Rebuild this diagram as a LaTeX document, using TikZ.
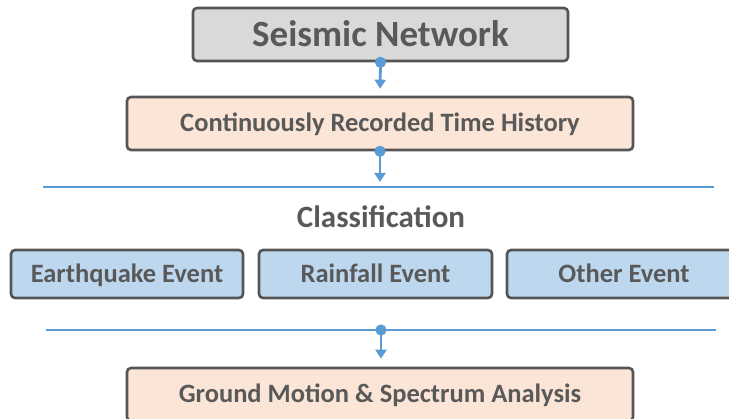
\documentclass[tikz,border=0pt]{standalone}
\usepackage{fontspec}
\setmainfont{Carlito}
\usetikzlibrary{arrows.meta}
\definecolor{txt}{HTML}{595959}
\definecolor{bord}{HTML}{555555}
\definecolor{grayfill}{HTML}{D9D9D9}
\definecolor{peach}{HTML}{FBE5D6}
\definecolor{lblue}{HTML}{BDD7EE}
\definecolor{lineblue}{HTML}{5B9BD5}
\tikzset{
  box/.style={draw=bord, line width=2.6pt, rounded corners=4pt, inner sep=0pt, text=txt, text height=17pt, text depth=0pt, font=\bfseries\fontsize{26.5}{30}\selectfont},
  conn/.style={draw=lineblue, line width=2.8pt, {Circle[length=11pt,width=11pt]}-{Triangle[length=9pt,width=11pt]}, shorten <=-5.5pt},
  hline/.style={draw=lineblue, line width=2.8pt},
}
\begin{document}
\begin{tikzpicture}[x=1pt,y=-1pt]
\useasboundingbox (0,0) rectangle (729,419);
\clip (0,0) rectangle (729,419);
\node[box, fill=grayfill, minimum width=375pt, minimum height=53pt, text height=24pt, font=\bfseries\fontsize{37}{42}\selectfont] (sn) at (380.5,34.5) {Seismic Network};
\node[box, fill=peach, minimum width=506pt, minimum height=53pt] (ct) at (380,123.5) {Continuously Recorded Time History};
\coordinate (l1a) at (43,187);
\coordinate (l1b) at (714,187);
\coordinate (l1c) at (380,187);
\draw[hline] (l1a) -- (l1b);
\node[text=txt, font=\bfseries\fontsize{31}{36}\selectfont, inner sep=0pt, text height=20pt, text depth=0pt] (cl) at (381,218) {Classification};
\node[box, fill=lblue, minimum width=232pt, minimum height=48pt] (eq) at (127,274) {Earthquake Event};
\node[box, fill=lblue, minimum width=233pt, minimum height=48pt] (rf) at (375.5,274) {Rainfall Event};
\node[box, fill=lblue, minimum width=234pt, minimum height=48pt] (ot) at (624,274) {Other Event};
\coordinate (l2a) at (46,330);
\coordinate (l2b) at (716,330);
\coordinate (l2c) at (381,330);
\draw[hline] (l2a) -- (l2b);
\node[box, fill=peach, minimum width=506pt, minimum height=53pt] (gm) at (380,394.5) {Ground Motion \& Spectrum Analysis};
\draw[conn, shorten >=7pt] (sn.south) -- (ct.north);
\draw[conn, shorten >=5pt] (ct.south) -- (l1c);
\draw[conn, shorten >=8pt] (l2c) -- (l2c |- gm.north);
\end{tikzpicture}
\end{document}
